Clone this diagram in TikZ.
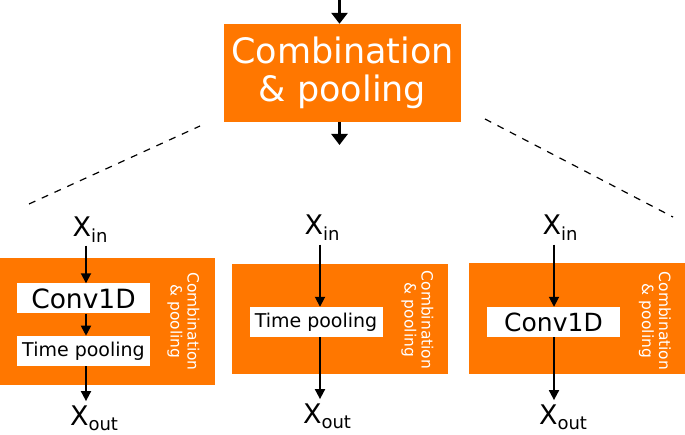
\documentclass[tikz,border=0pt]{standalone}
\usepackage{fontspec}
\setmainfont{DejaVu Sans}
\usetikzlibrary{arrows.meta,positioning}
\definecolor{combo-fill}{HTML}{FF7700}
\newcommand{\lowsub}[1]{\raisebox{-5.5pt}{\fontsize{18}{18}\selectfont #1}}

\begin{document}
\begin{tikzpicture}[x=1pt, y=-1pt,
 panel/.style={fill=combo-fill, draw=none, inner sep=0pt},
 layer/.style={fill=white, draw=none, inner sep=0pt, minimum width=133pt, minimum height=30pt},
 side/.style={text=white, rotate=-90, align=center, inner sep=0pt, font=\fontsize{15.5}{17}\selectfont},
 io/.style={inner sep=0pt, anchor=base, font=\fontsize{27}{27}\selectfont},
 ar/.style={-{Triangle[width=10pt,length=10pt]}, line width=1.8pt},
 bigar/.style={-{Triangle[width=16pt,length=11pt]}, line width=2.8pt},
 zoomline/.style={dash pattern=on 7pt off 7pt, line width=1.2pt},
]
 \useasboundingbox (0,0) rectangle (685,435);

 % top block
 \node[panel, minimum width=237pt, minimum height=98pt, text=white, align=center,
   font=\fontsize{35}{38.5}\selectfont] (combo) at (342.5,73) {Combination\\ \& pooling};
 \coordinate (feed) at (339.5,0);
 \coordinate (emit) at (339.5,145);
 \draw[bigar] (feed) -- (feed |- combo.north);
 \draw[bigar] (emit |- combo.south) -- (emit);

 % zoom lines
 \coordinate (zl1) at (29,204);
 \coordinate (zl2) at (200,126);
 \coordinate (zr1) at (485,119);
 \coordinate (zr2) at (673,217);
 \draw[zoomline] (zl1) -- (zl2);
 \draw[zoomline] (zr1) -- (zr2);

 % left: conv + pooling
 \node[panel, minimum width=215pt, minimum height=127pt] (panA) at (107.5,321.5) {};
 \node[layer, font=\fontsize{26.5}{26.5}\selectfont] (convA) at (83.5,298.5) {Conv1D};
 \node[layer, font=\fontsize{19}{19}\selectfont, below=22pt of convA] (poolA) {Time pooling};
 \node[side] (sideA) at (183.5,321.5) {Combination\\ \& pooling};
 \node[io] (inA) at (90,237) {X\lowsub{in}};
 \node[io] (outA) at (94,425) {X\lowsub{out}};
 \coordinate (axA) at (86,0);
 \draw[ar, shorten <=3pt] (inA.south -| axA) -- (convA.north -| axA);
 \draw[ar] (convA.south -| axA) -- (poolA.north -| axA);
 \draw[ar, shorten >=4pt] (poolA.south -| axA) -- (outA.north -| axA);

 % middle: pooling only
 \node[panel, minimum width=216pt, minimum height=110pt] (panB) at (340,319) {};
 \node[layer, font=\fontsize{19}{19}\selectfont] (poolB) at (316,322) {Time pooling};
 \node[side] (sideB) at (417.5,320) {Combination\\ \& pooling};
 \node[io] (inB) at (322,235) {X\lowsub{in}};
 \node[io] (outB) at (327,423) {X\lowsub{out}};
 \coordinate (axB) at (320,0);
 \draw[ar, shorten <=4pt] (inB.south -| axB) -- (poolB.north -| axB);
 \draw[ar, shorten >=4pt] (poolB.south -| axB) -- (outB.north -| axB);

 % right: conv only
 \node[panel, minimum width=216pt, minimum height=111pt] (panC) at (577,318.5) {};
 \node[layer, font=\fontsize{25}{25}\selectfont] (convC) at (553.5,322) {Conv1D};
 \node[side] (sideC) at (655,321) {Combination\\ \& pooling};
 \node[io] (inC) at (560,235) {X\lowsub{in}};
 \node[io] (outC) at (563,424) {X\lowsub{out}};
 \coordinate (axC) at (554,0);
 \draw[ar, shorten <=4pt] (inC.south -| axC) -- (convC.north -| axC);
 \draw[ar, shorten >=4pt] (convC.south -| axC) -- (outC.north -| axC);
\end{tikzpicture}
\end{document}
